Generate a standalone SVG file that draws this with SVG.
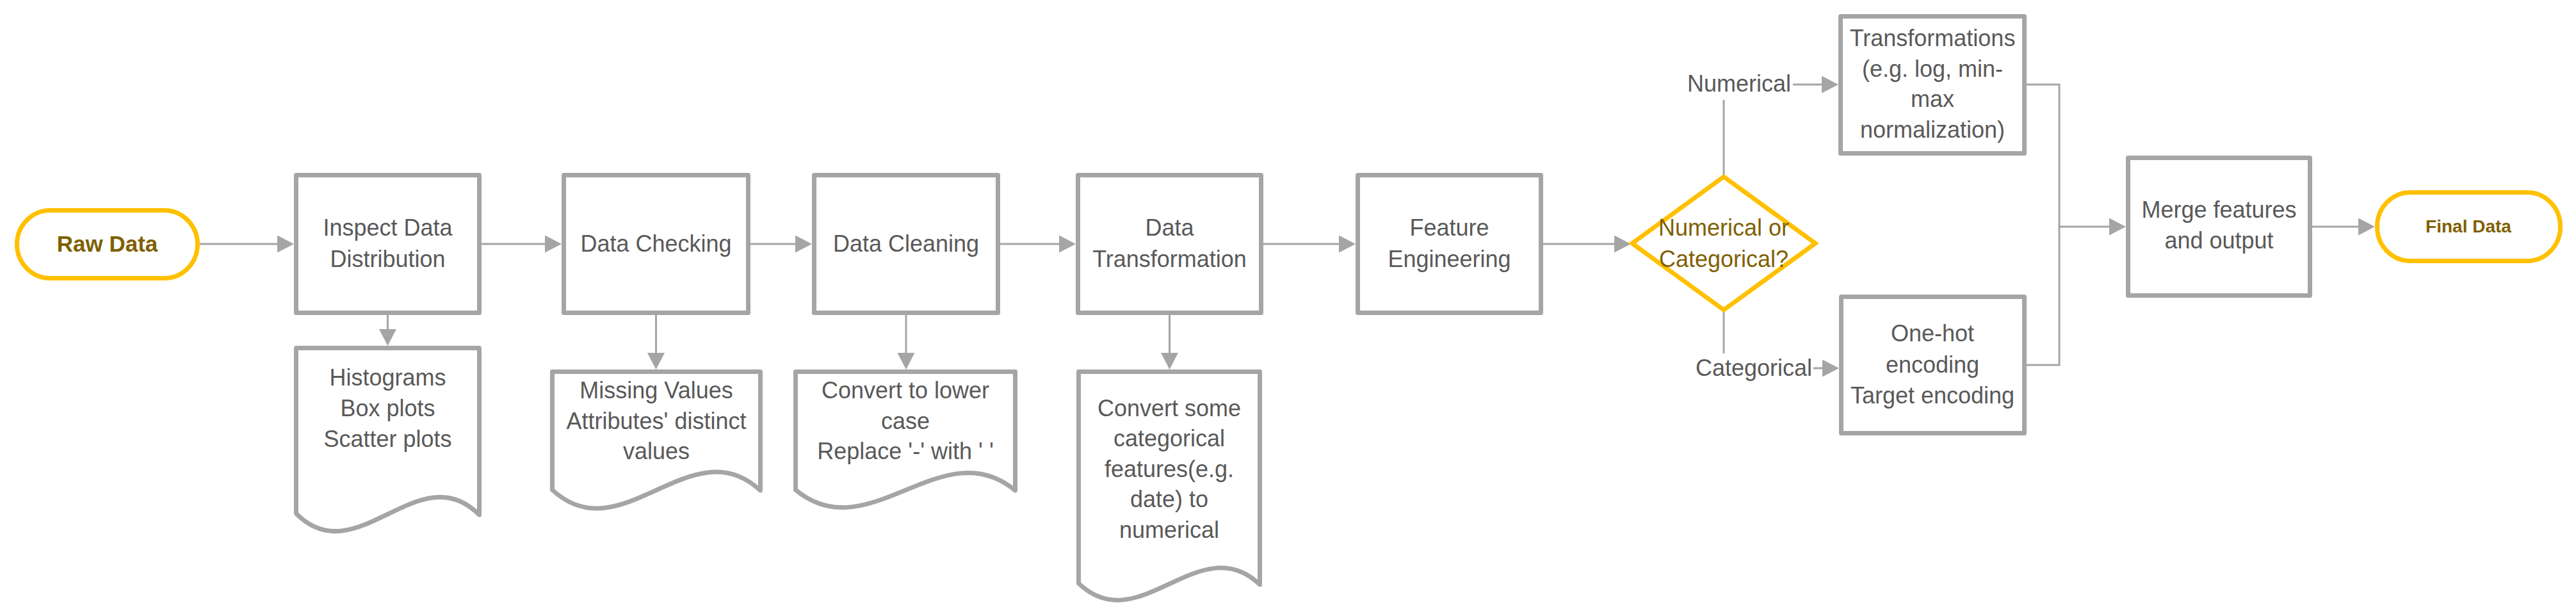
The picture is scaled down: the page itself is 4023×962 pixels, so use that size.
<svg xmlns="http://www.w3.org/2000/svg" width="4023" height="962" viewBox="0 0 4023 962">
<style>
.box{fill:#fff;stroke:#A5A5A5;stroke-width:7;stroke-linejoin:round}
.term{fill:#fff;stroke:#FFC000;stroke-width:7}
.dec{fill:#fff;stroke:#FFC000;stroke-width:7;stroke-linejoin:miter}
.t{font-family:"Liberation Sans",Arial,sans-serif;font-size:36px;fill:#595959;text-anchor:middle}
.g{font-family:"Liberation Sans",Arial,sans-serif;font-size:36px;fill:#7F6000;text-anchor:middle}
.b{font-family:"Liberation Sans",Arial,sans-serif;font-weight:bold;fill:#7F6000;text-anchor:middle}
.c{fill:none;stroke:#A5A5A5;stroke-width:3}
.lbl{font-family:"Liberation Sans",Arial,sans-serif;font-size:36px;fill:#595959}
</style>
<defs>
<marker id="ah" markerUnits="userSpaceOnUse" viewBox="0 0 26 27" refX="22" refY="13.5" markerWidth="26" markerHeight="27" orient="auto">
<path d="M0,0 L26,13.5 L0,27 Z" fill="#A5A5A5"/>
</marker>
</defs>
<rect width="4023" height="962" fill="#fff"/>

<g id="connectors">
<path class="c" d="M312,381 H455" marker-end="url(#ah)"/>
<path class="c" d="M752,381 H873" marker-end="url(#ah)"/>
<path class="c" d="M1172,381 H1264" marker-end="url(#ah)"/>
<path class="c" d="M1562,381 H1676" marker-end="url(#ah)"/>
<path class="c" d="M1973,381 H2113" marker-end="url(#ah)"/>
<path class="c" d="M2410,381 H2543" marker-end="url(#ah)"/>
<path class="c" d="M605.5,492 V536" marker-end="url(#ah)"/>
<path class="c" d="M1024.5,492 V573" marker-end="url(#ah)"/>
<path class="c" d="M1415,492 V573" marker-end="url(#ah)"/>
<path class="c" d="M1826.5,492 V573" marker-end="url(#ah)"/>
<path class="c" d="M2692,276 V132 H2867" marker-end="url(#ah)"/>
<path class="c" d="M2692,484 V575 H2868" marker-end="url(#ah)"/>
<path class="c" d="M3165,132 H3216 V570 H3165"/>
<path class="c" d="M3216,354 H3316" marker-end="url(#ah)"/>
<path class="c" d="M3611,354 H3705" marker-end="url(#ah)"/>
<rect x="2630" y="104" width="170" height="52" fill="#fff"/>
<text class="lbl" x="2797" y="143" text-anchor="end">Numerical</text>
<rect x="2648" y="552" width="184" height="48" fill="#fff"/>
<text class="lbl" x="2830" y="587" text-anchor="end">Categorical</text>
</g>

<g id="raw-data">
<rect class="term" x="26.5" y="328.5" width="282" height="106" rx="52" ry="53"/>
<text class="b" x="167.5" y="393" font-size="35">Raw Data</text>
</g>

<g id="inspect">
<rect class="box" x="462.5" y="273.5" width="286" height="215"/>
<text class="t" x="605.5" y="368">Inspect Data</text>
<text class="t" x="605.5" y="417">Distribution</text>
</g>

<g id="plots-doc">
<path class="box" d="M462.5,802 V543.5 H748.5 V804 C653.5,709 557.5,897 462.5,802 Z"/>
<text class="t" x="605.5" y="602">Histograms</text>
<text class="t" x="605.5" y="650">Box plots</text>
<text class="t" x="605.5" y="698">Scatter plots</text>
</g>

<g id="data-checking">
<rect class="box" x="880.5" y="273.5" width="288" height="215"/>
<text class="t" x="1024.5" y="393">Data Checking</text>
</g>

<g id="checking-doc">
<path class="box" d="M862.5,765 V580.5 H1187.5 V766 C1079.5,666 970.5,865 862.5,765 Z"/>
<text class="t" x="1025" y="622">Missing Values</text>
<text class="t" x="1025" y="670">Attributes' distinct</text>
<text class="t" x="1025" y="717">values</text>
</g>

<g id="data-cleaning">
<rect class="box" x="1271.5" y="273.5" width="287" height="215"/>
<text class="t" x="1415" y="393">Data Cleaning</text>
</g>

<g id="cleaning-doc">
<path class="box" d="M1242.5,765 V580.5 H1585.5 V766 C1471.5,671 1356.5,860 1242.5,765 Z"/>
<text class="t" x="1414" y="622">Convert to lower</text>
<text class="t" x="1414" y="670">case</text>
<text class="t" x="1414" y="717">Replace '-' with ' '</text>
</g>

<g id="data-transformation">
<rect class="box" x="1683.5" y="273.5" width="286" height="215"/>
<text class="t" x="1826.5" y="368">Data</text>
<text class="t" x="1826.5" y="417">Transformation</text>
</g>

<g id="transformation-doc">
<path class="box" d="M1684.5,911 V580.5 H1967.5 V913 C1873.5,823 1778.5,1001 1684.5,911 Z"/>
<text class="t" x="1826" y="650">Convert some</text>
<text class="t" x="1826" y="697">categorical</text>
<text class="t" x="1826" y="745">features(e.g.</text>
<text class="t" x="1826" y="792">date) to</text>
<text class="t" x="1826" y="840">numerical</text>
</g>

<g id="feature-engineering">
<rect class="box" x="2120.5" y="273.5" width="286" height="215"/>
<text class="t" x="2263.5" y="368">Feature</text>
<text class="t" x="2263.5" y="417">Engineering</text>
</g>

<g id="decision">
<path class="dec" d="M2549,380 L2692,276 L2835,380 L2692,484 Z"/>
<text class="g" x="2692" y="368">Numerical or</text>
<text class="g" x="2692" y="417">Categorical?</text>
</g>

<g id="transformations">
<rect class="box" x="2874.5" y="25.5" width="287" height="214"/>
<text class="t" x="3018" y="72">Transformations</text>
<text class="t" x="3018" y="120">(e.g. log, min-</text>
<text class="t" x="3018" y="167">max</text>
<text class="t" x="3018" y="215">normalization)</text>
</g>

<g id="encoding">
<rect class="box" x="2875.5" y="463.5" width="286" height="213"/>
<text class="t" x="3018" y="533">One-hot</text>
<text class="t" x="3018" y="582">encoding</text>
<text class="t" x="3018" y="630">Target encoding</text>
</g>

<g id="merge">
<rect class="box" x="3323.5" y="246.5" width="284" height="215"/>
<text class="t" x="3465.5" y="340">Merge features</text>
<text class="t" x="3465.5" y="388">and output</text>
</g>

<g id="final-data">
<rect class="term" x="3712.5" y="300.5" width="286" height="107" rx="52" ry="53"/>
<text class="b" x="3855" y="363" font-size="28">Final Data</text>
</g>
</svg>
